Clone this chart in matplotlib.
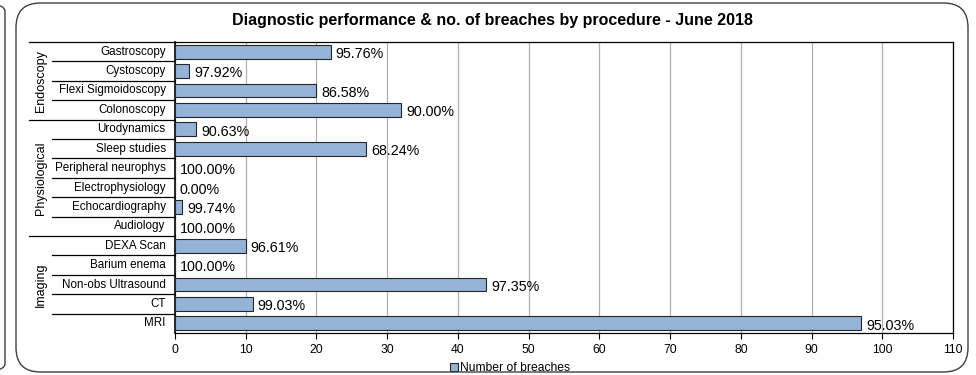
import matplotlib.pyplot as plt
from matplotlib.patches import FancyBboxPatch
from matplotlib.lines import Line2D

# categories listed top to bottom
procedures = ["Gastroscopy", "Cystoscopy", "Flexi Sigmoidoscopy", "Colonoscopy",
              "Urodynamics", "Sleep studies", "Peripheral neurophys", "Electrophysiology",
              "Echocardiography", "Audiology",
              "DEXA Scan", "Barium enema", "Non-obs Ultrasound", "CT", "MRI"]
breaches = [22, 2, 20, 32, 3, 27, 0, 0, 1, 0, 10, 0, 44, 11, 97]
performance = ["95.76%", "97.92%", "86.58%", "90.00%", "90.63%", "68.24%", "100.00%",
               "0.00%", "99.74%", "100.00%", "96.61%", "100.00%", "97.35%", "99.03%", "95.03%"]
groups = ["Endoscopy", "Physiological", "Imaging"]
group_sizes = [4, 6, 5]

W, H = 976, 375
fig = plt.figure(figsize=(W / 100, H / 100), dpi=100)
plt.rcParams['font.family'] = ['Liberation Sans', 'DejaVu Sans']

# outer frames (neighbour chart edge + main frame)
fig.patches.append(FancyBboxPatch((-40 / W, 4 / H), 45 / W, 367 / H,
                                  boxstyle="round,pad=0,rounding_size=0.02",
                                  transform=fig.transFigure, fill=False,
                                  edgecolor="#404040", lw=1.0))
fig.patches.append(FancyBboxPatch((16 / W, 3 / H), 952 / W, 369 / H,
                                  boxstyle="round,pad=0,rounding_size=0.025",
                                  transform=fig.transFigure, fill=False,
                                  edgecolor="#404040", lw=1.0, mutation_aspect=W / H))

left, right, top, bottom = 175 / W, 953 / W, 1 - 42 / H, 1 - 333 / H
ax = fig.add_axes([left, bottom, right - left, top - bottom])

n = len(procedures)
ypos = list(range(n))[::-1]
ax.barh(ypos, breaches, height=0.72, color="#95b3d7", edgecolor="#262626", lw=0.8,
        zorder=3)
for y, v, t in zip(ypos, breaches, performance):
    ax.text(v + 0.7, y - 0.12, t, va="center", ha="left", fontsize=10.3, zorder=4)

ax.set_xlim(0, 110)
ax.set_ylim(-0.5, n - 0.5)
ax.set_xticks(range(0, 111, 10))
ax.tick_params(axis="x", labelsize=8.7, length=4, direction="out", pad=4)
ax.set_yticks([])
ax.grid(axis="x", color="#b0b0b0", lw=0.9, zorder=0)
for s in ax.spines.values():
    s.set_color("black")
    s.set_linewidth(0.9)
ax.spines["left"].set_linewidth(1.2)

# category labels and separators
for y, name in zip(ypos, procedures):
    ax.text(-0.012, y, name, transform=ax.get_yaxis_transform(), ha="right",
            va="center", fontsize=8.4)
bounds = [n - 0.5 - i for i in range(n)]
grp_bounds = [n - 0.5]
acc = 0
for g in group_sizes:
    acc += g
    grp_bounds.append(n - 0.5 - acc)
for b in bounds:
    x0 = 29 / W if b in grp_bounds else 52 / W
    fy = ax.transData.transform((0, b))[1] / H
    fig.add_artist(Line2D([x0, left], [fy, fy], color="black", lw=0.9,
                          transform=fig.transFigure))
for i, g in enumerate(groups):
    mid = (grp_bounds[i] + grp_bounds[i + 1]) / 2
    fy = ax.transData.transform((0, mid))[1] / H
    fig.text(41 / W, fy, g, rotation=90, ha="center", va="center", fontsize=9)

fig.text(492 / W, 1 - 21 / H,
         "Diagnostic performance & no. of breaches by procedure - June 2018",
         ha="center", va="center", fontsize=11.5, fontweight="bold")

ax.legend(["Number of breaches"], loc="center", bbox_to_anchor=(510 / W, 1 - 368 / H),
          bbox_transform=fig.transFigure, frameon=False, fontsize=8.7,
          handlelength=0.7, handleheight=0.7, handletextpad=0.2, borderaxespad=0,
          borderpad=0)

fig.savefig("out.png", dpi=100)
